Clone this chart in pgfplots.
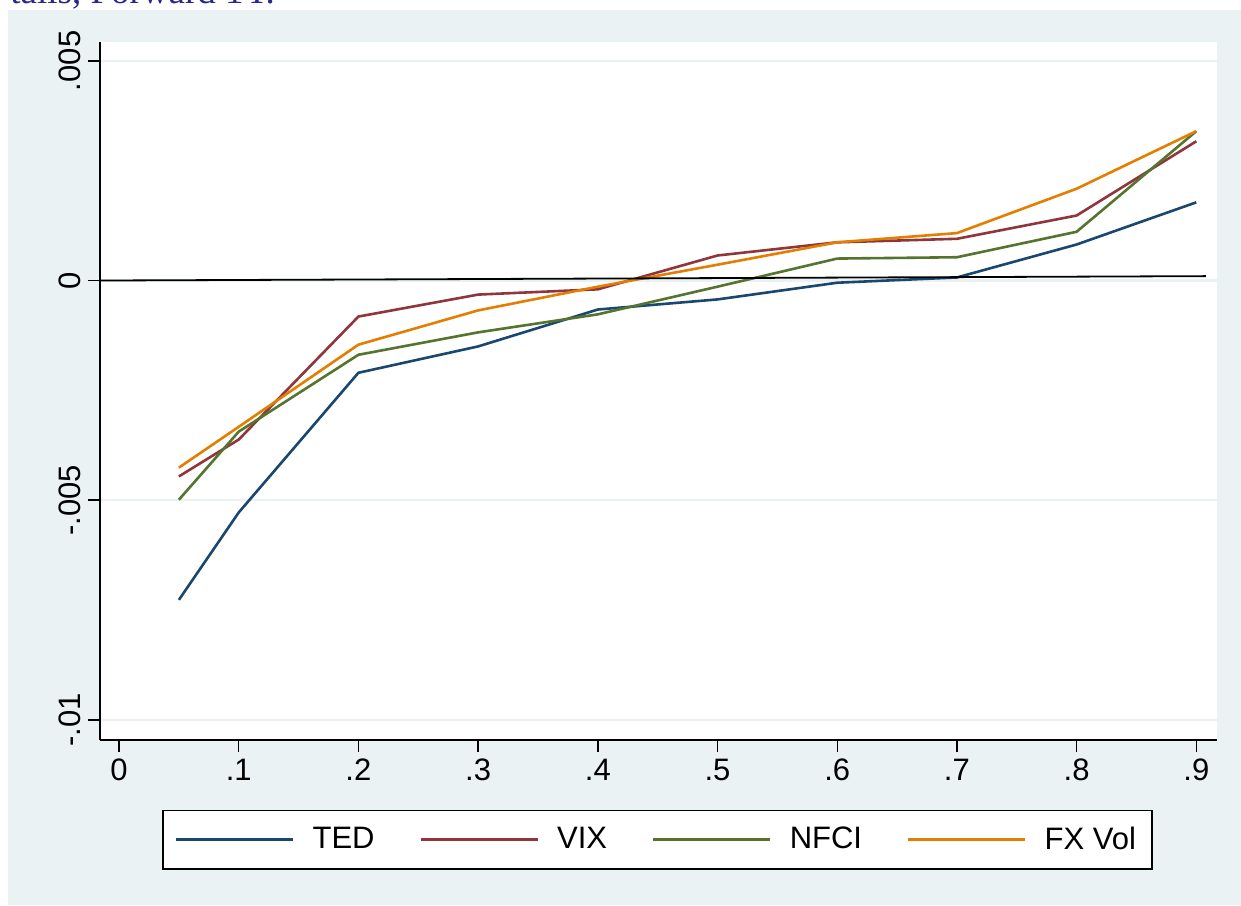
\documentclass[border=0pt]{standalone}
\usepackage{fontspec}
\setmainfont{Liberation Sans}
\newfontfamily\titlefont{Liberation Serif}
\usepackage{pgfplots}
\pgfplotsset{compat=1.18}
\definecolor{bgc}{RGB}{234,242,243}
\definecolor{sNavy}{RGB}{26,71,111}
\definecolor{sMaroon}{RGB}{144,53,59}
\definecolor{sGreen}{RGB}{85,117,47}
\definecolor{sOrange}{RGB}{227,126,0}
\definecolor{titleblue}{RGB}{40,40,140}
\begin{document}
\begin{tikzpicture}
\useasboundingbox (0,0) rectangle (620.5pt,-452.5pt);
\begin{scope}
\clip (0,0) rectangle (620.5pt,-452.5pt);
\node[anchor=base west, inner sep=0pt, text=titleblue, font=\titlefont\fontsize{18.5}{22}\selectfont] at (5pt,-1.8pt) {tails, Forward 1Y.};
\end{scope}
\fill[bgc] (4pt,-5pt) rectangle (620.5pt,-452.5pt);
\begin{axis}[
  at={(50pt,-370pt)}, anchor=south west,
  width=558.5pt, height=349pt, scale only axis,
  xmin=-0.0159, xmax=0.9173, ymin=-0.01046, ymax=0.00543,
  axis lines*=left,
  axis line style={line width=0.7pt, black},
  axis background/.style={fill=white},
  tick align=outside, major tick length=6pt,
  tick style={line width=0.7pt, black},
  xtick={0,0.1,0.2,0.3,0.4,0.5,0.6,0.7,0.8,0.9},
  xticklabels={0,.1,.2,.3,.4,.5,.6,.7,.8,.9},
  ytick={-0.01,-0.005,0,0.005},
  yticklabels={-.01,-.005,0,.005},
  scaled y ticks=false,
  ymajorgrids, grid style={color=bgc, line width=1.2pt},
  ticklabel style={font=\fontsize{15.5}{18}\selectfont},
  yticklabel style={rotate=90, anchor=south},
  /pgf/number format/assume math mode=true,
  legend columns=4,
  legend image code/.code={\draw[#1] (0pt,0pt) -- (58.5pt,0pt);},
  legend style={at={(0.4991,-0.1426)}, anchor=center, draw=black, line width=0.7pt, fill=white,
    font=\fontsize{15.5}{18}\selectfont, inner xsep=6pt, inner ysep=6.3pt,
    /tikz/every odd column/.append style={column sep=7pt},
    /tikz/every even column/.append style={column sep=20.5pt}},
  every axis plot/.append style={line width=1.3pt},
]
\addplot[sNavy] coordinates {(0.05,-0.00727) (0.1,-0.00528) (0.2,-0.00210) (0.3,-0.00150) (0.4,-0.00066) (0.5,-0.00043) (0.6,-0.00005) (0.7,0.00007) (0.8,0.00082) (0.9,0.00178)};
\addlegendentry{TED}
\addplot[sMaroon] coordinates {(0.05,-0.00446) (0.1,-0.00362) (0.2,-0.00082) (0.3,-0.00032) (0.4,-0.00020) (0.5,0.00057) (0.6,0.00087) (0.7,0.00095) (0.8,0.00148) (0.9,0.00317)};
\addlegendentry{VIX}
\addplot[sGreen] coordinates {(0.05,-0.00499) (0.1,-0.00344) (0.2,-0.00169) (0.3,-0.00118) (0.4,-0.00077) (0.5,-0.00014) (0.6,0.00050) (0.7,0.00053) (0.8,0.00111) (0.9,0.00340)};
\addlegendentry{NFCI}
\addplot[sOrange] coordinates {(0.05,-0.00426) (0.1,-0.00333) (0.2,-0.00146) (0.3,-0.00068) (0.4,-0.00014) (0.5,0.00036) (0.6,0.00087) (0.7,0.00108) (0.8,0.00209) (0.9,0.00340)};
\addlegendentry{FX Vol}
\addplot[black, line width=0.9pt, forget plot] coordinates {(-0.0159,0) (0.908,0.0001)};
\end{axis}
\end{tikzpicture}
\end{document}
